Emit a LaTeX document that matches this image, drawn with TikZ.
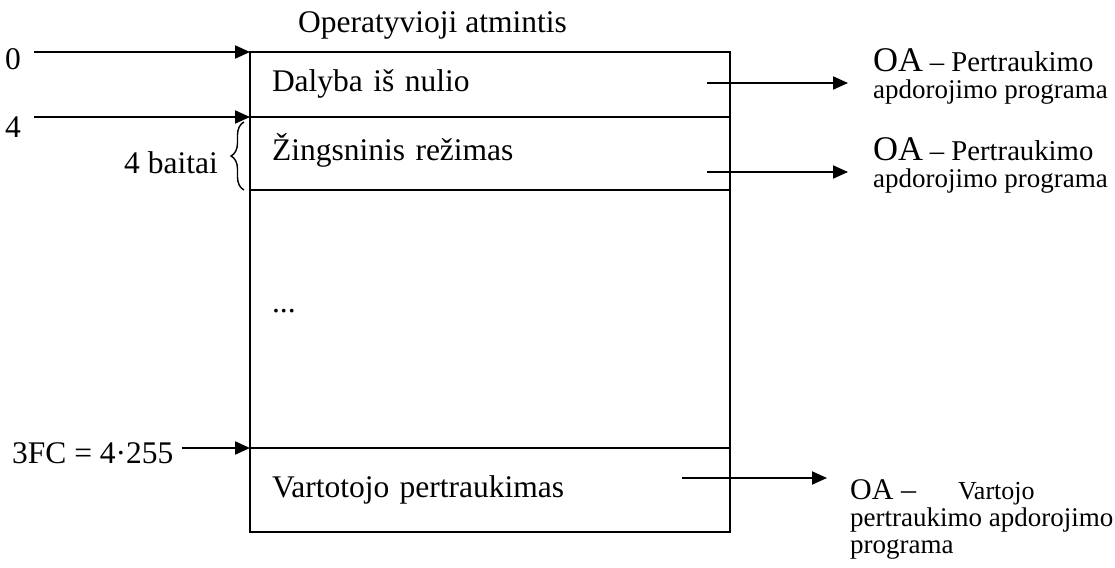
\documentclass[tikz,border=0pt]{standalone}
\usepackage{fontspec}
\setmainfont{Liberation Serif}
\usetikzlibrary{arrows.meta,positioning,decorations.pathreplacing}
\tikzset{
  cell/.style={draw=black, line width=2pt, text width=436pt, align=left, inner xsep=22pt, inner ysep=0pt, outer sep=0pt, text height=21.5pt, text depth=7pt, font=\fontsize{31.5}{36}\selectfont},
  lbl/.style={inner sep=0pt, font=\fontsize{31.5}{36}\selectfont},
  oa/.style={inner sep=0pt, align=left, font=\fontsize{27}{25}\selectfont},
  arrow/.style={-{Triangle[length=15pt,width=13pt]}, line width=2pt},
  bytebrace/.style={decorate, decoration={brace, amplitude=13pt}, line width=1.4pt}
}
\begin{document}
\begin{tikzpicture}[x=1pt, y=-1pt]
\useasboundingbox (0,0) rectangle (1115,567);
% memory table
\node[cell, minimum height=65pt, anchor=north west] (c0) at (250,52) {Dalyba iš nulio};
\node[cell, minimum height=73pt, below=0pt of c0] (c1) {Žingsninis režimas};
\node[cell, minimum height=258pt, text depth=35.5pt, below=0pt of c1] (c2) {...};
\node[cell, minimum height=84pt, below=0pt of c2] (c3) {Vartotojo pertraukimas};
\node[lbl, anchor=base west] (title) at (298,33) {Operatyvioji atmintis};
% addresses
\node[lbl, anchor=base west] (a0) at (5,70) {0};
\node[lbl, anchor=base west] (a4) at (5,137) {4};
\node[lbl, anchor=base west] (a3fc) at (12,463) {3FC = 4·255};
\draw[arrow] ([xshift=13pt]a0.east |- c0.north west) -- (c0.north west);
\draw[arrow] ([xshift=13pt]a4.east |- c1.north west) -- (c1.north west);
\draw[arrow] ([xshift=8pt]a3fc.east |- c3.north west) -- (c3.north west);
\draw[bytebrace] ([xshift=-6pt]c1.south west) -- ([xshift=-6pt,yshift=-5pt]c1.north west);
\node[lbl, anchor=base east] (bt) at (218,173) {4 baitai};
% handlers
\node[oa, anchor=north west] (oa1) at (873,48) {{\fontsize{34.6}{25}\selectfont OA} {\fontsize{28.7}{25}\selectfont – Pertraukimo}\\[2pt]apdorojimo programa};
\node[oa, anchor=north west] (oa2) at (873,137) {{\fontsize{34.6}{25}\selectfont OA} {\fontsize{28.7}{25}\selectfont – Pertraukimo}\\[2pt]apdorojimo programa};
\node[oa, anchor=north west] (oa3) at (850,479) {{\fontsize{30}{25}\selectfont OA –}\hspace{42pt}{\fontsize{26}{25}\selectfont Vartojo}\\[2pt]pertraukimo apdorojimo\\[2pt]programa};
\coordinate (s1) at ([xshift=-23pt,yshift=1.5pt]c0.east);
\coordinate (s2) at ([xshift=-23pt,yshift=-18.5pt]c1.east);
\coordinate (s3) at ([xshift=-48pt,yshift=12pt]c3.east);
\draw[arrow] (s1) -- ([xshift=-25pt]oa1.west |- s1);
\draw[arrow] (s2) -- ([xshift=-25pt]oa2.west |- s2);
\draw[arrow] (s3) -- ([xshift=-23pt]oa3.west |- s3);
\end{tikzpicture}
\end{document}
